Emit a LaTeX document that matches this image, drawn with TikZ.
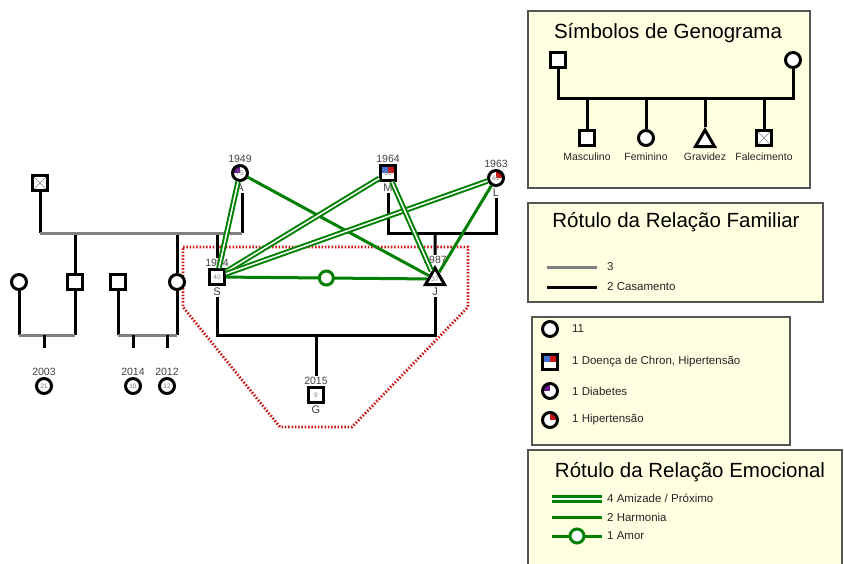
\documentclass[tikz,border=0pt]{standalone}
\usepackage{fontspec}
\setmainfont{Liberation Sans}
\usetikzlibrary{shapes.geometric}

\definecolor{verde}{RGB}{0,128,0}
\definecolor{cinza}{RGB}{128,128,128}
\definecolor{creme}{RGB}{255,255,225}
\definecolor{borda}{RGB}{85,85,85}
\definecolor{vermelho}{RGB}{205,20,20}
\definecolor{azul}{RGB}{65,115,215}
\definecolor{roxo}{RGB}{105,25,140}

\tikzset{
  pessoa/.style={draw, line width=3pt, inner sep=0pt, fill=white,
    font=\fontsize{6.5}{6.5}\selectfont\color{gray}},
  masc/.style={pessoa, rectangle, minimum size=14.5pt},
  fem/.style={pessoa, circle, minimum size=15pt},
  grav/.style={pessoa, regular polygon, regular polygon sides=3, minimum size=22pt},
  morto/.style={masc, path picture={
      \draw[gray, line width=.6pt] (path picture bounding box.north west) -- (path picture bounding box.south east)
        (path picture bounding box.north east) -- (path picture bounding box.south west);}},
  hiper/.style={path picture={\fill[vermelho] (path picture bounding box.center) rectangle (path picture bounding box.north east);}},
  diab/.style={path picture={\fill[roxo] (path picture bounding box.center) rectangle (path picture bounding box.north west);}},
  chron/.style={path picture={\fill[azul] (path picture bounding box.west) rectangle (path picture bounding box.north);
      \fill[vermelho] (path picture bounding box.north) rectangle (path picture bounding box.east);}},
  ano/.style={font=\fontsize{10.5}{11}\selectfont, text=black!75, inner sep=1.2pt},
  nome/.style={font=\fontsize{11}{11}\selectfont, text=black!75, inner sep=1.5pt},
  familia/.style={line width=3pt},
  irmaos/.style={line width=3pt, draw=cinza},
  amizade/.style={draw=verde, line width=2pt, double=white, double distance=1.5pt},
  harmonia/.style={draw=verde, line width=3pt},
  amor/.style={circle, draw=verde, line width=3pt, fill=white, minimum size=14pt, inner sep=0pt},
  regiao/.style={draw=vermelho, line width=2.8pt, dash pattern=on 1.5pt off 1.8pt},
  caixa/.style={draw=borda, fill=creme, line width=1.3pt},
  titulo/.style={font=\fontsize{20.5}{22}\selectfont},
  item/.style={font=\fontsize{11.5}{12}\selectfont, text=black!85, anchor=west, inner sep=0pt},
  rotulo/.style={font=\fontsize{10.5}{11}\selectfont, text=black!85, inner sep=0pt},
}

\begin{document}
\begin{tikzpicture}[x=1pt, y=-1pt]
  \useasboundingbox (0,0) rectangle (844,563);

  % caixas da legenda
  \draw[caixa] (528,11) rectangle (810,188);
  \draw[caixa] (528,203) rectangle (823,302);
  \draw[caixa] (532,317) rectangle (790,445);
  \draw[caixa] (528,450) rectangle (842,585);

  % domicilio
  \draw[regiao] (183,247) -- (468,247) -- (468,307) -- (352,427) -- (280,427) -- (183,307) -- cycle;

  % pessoas
  \node[morto] (avo) at (40,183) {};
  \node[fem, diab, label={[ano]above:1949}, label={[nome, name=Anm]below:A}] (A) at (240,173) {75};
  \node[masc, label={[ano, name=Syr]above:1984}, label={[nome, name=Snm]below:S}] (S) at (217,277) {40};
  \node[fem] (cunhada) at (19,282) {};
  \node[masc] (irmao) at (75,282) {};
  \node[masc] (cunhado) at (118,282) {};
  \node[fem] (irma) at (177,282) {};
  \node[fem, label={[ano]above:2003}] (k1) at (44,386) {21};
  \node[fem, label={[ano]above:2014}] (k2) at (133,386) {10};
  \node[fem, label={[ano]above:2012}] (k3) at (167,386) {12};
  \node[masc, chron, label={[ano]above:1964}, label={[nome, name=Mnm]below:M}] (M) at (388,173) {60};
  \node[fem, hiper, label={[ano]above:1963}, label={[nome, name=Lnm]below:L}] (L) at (496,178) {61};
  \node[grav, label={[ano, name=Jyr]above:1987}, label={[nome, name=Jnm]below:J}] (J) at (435,279) {37};
  \node[masc, label={[ano, name=Gyr]above:2015}, label={[nome]below:G}] (G) at (316,395) {9};

  % familia de origem
  \coordinate (g1) at (40,233);
  \coordinate (g2) at (242,233);
  \coordinate (c1) at (0,335);
  \draw[familia] (avo.south) -- (g1);
  \draw[familia] (g2 |- Anm.south) -- (g2);
  \draw[familia] (irmao.north) -- (irmao |- g1);
  \draw[familia] (irma.north) -- (irma |- g1);
  \draw[familia] (Syr.north) -- (Syr |- g1);
  \draw[irmaos] (g1) -- (g2);

  \draw[familia] (cunhada.south) -- (cunhada |- c1);
  \draw[familia] (irmao.south) -- (irmao |- c1);
  \draw[irmaos] (cunhada |- c1) -- (irmao |- c1);
  \draw[familia] (k1 |- c1) -- ++(0,13);

  \draw[familia] (cunhado.south) -- (cunhado |- c1);
  \draw[familia] (irma.south) -- (irma |- c1);
  \draw[irmaos] (cunhado |- c1) -- (irma |- c1);
  \draw[familia] (k2 |- c1) -- ++(0,13);
  \draw[familia] (k3 |- c1) -- ++(0,13);

  % casamentos
  \draw[familia] (Mnm.south) |- (Lnm.south |- g1) -- (Lnm.south);
  \draw[familia] (Jyr.north) -- (J |- g1);
  \draw[familia] (Snm.south) |- (Jnm.south |- c1) -- (Jnm.south);
  \draw[familia] (Gyr.north) -- (G |- c1);

  % relacoes emocionais
  \draw[amizade] (A) -- (S);
  \draw[harmonia] (A) -- (J);
  \draw[amizade] (S) -- (M);
  \draw[amizade] (S) -- (L);
  \draw[amizade] (M) -- (J);
  \draw[harmonia] (L) -- (J);
  \draw[harmonia] (S) -- node[amor] (amorS) {} (J);

  % simbolos de genograma
  \node[titulo] (t1) at (668,33) {Símbolos de Genograma};
  \node[masc] (lpai) at (558,60) {};
  \node[fem] (lmae) at (793,60) {};
  \coordinate (l1) at (0,98);
  \draw[familia] (lpai.south) |- (lmae |- l1) -- (lmae.south);
  \node[masc] (lm) at (587,138) {};
  \node[fem] (lf) at (646,138) {};
  \node[grav] (lg) at (705,141) {};
  \node[morto] (lx) at (764,138) {};
  \foreach \c in {lm,lf,lg,lx}
    \draw[familia] (\c.north) -- (\c |- l1);
  \node[rotulo] (tm) at (587,157) {Masculino};
  \node[rotulo] (tf) at (646,157) {Feminino};
  \node[rotulo] (tg) at (705,157) {Gravidez};
  \node[rotulo] (tx) at (764,157) {Falecimento};

  % relacao familiar
  \node[titulo] (t2) at (676,222) {Rótulo da Relação Familiar};
  \draw[irmaos] (547,267) -- (597,267);
  \node[item] (r3) at (607,267) {3};
  \draw[familia] (547,287) -- (597,287);
  \node[item] (r2) at (607,287) {2 Casamento};

  % condicoes
  \node[fem] (q1) at (550,329) {};
  \node[item] (i1) at (572,329) {11};
  \node[masc, chron] (q2) at (550,362) {};
  \node[item] (i2) at (572,362) {1 Doença de Chron, Hipertensão};
  \node[fem, diab] (q3) at (550,391) {};
  \node[item] (i3) at (572,391) {1 Diabetes};
  \node[fem, hiper] (q4) at (550,420) {};
  \node[item] (i4) at (572,420) {1 Hipertensão};

  % relacao emocional
  \node[titulo] (t3) at (690,472) {Rótulo da Relação Emocional};
  \draw[amizade, line width=2.6pt, double distance=2pt] (552,499) -- (602,499);
  \node[item] (e1) at (607,498) {4 Amizade / Próximo};
  \draw[harmonia] (552,517) -- (602,517);
  \node[item] (e2) at (607,517) {2 Harmonia};
  \draw[harmonia] (552,536) -- node[amor] (amorL) {} (602,536);
  \node[item] (e3) at (607,536) {1 Amor};
\end{tikzpicture}
\end{document}
